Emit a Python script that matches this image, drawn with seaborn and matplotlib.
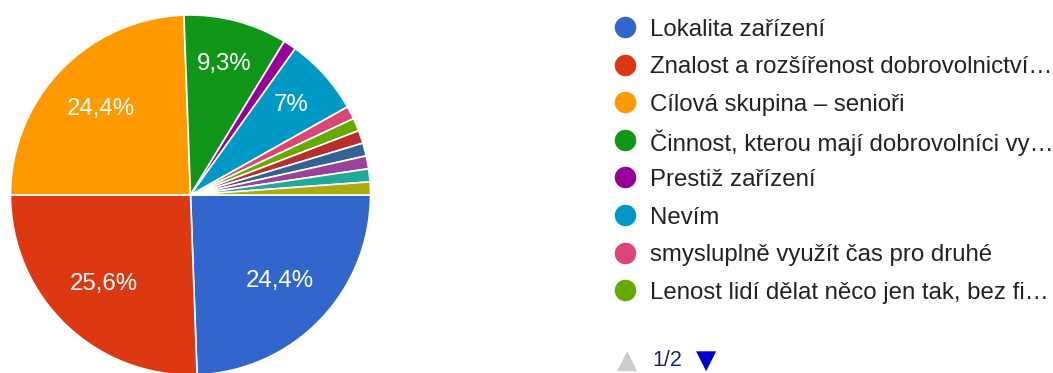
import numpy as np
import matplotlib.pyplot as plt
import seaborn as sns
from matplotlib.lines import Line2D

# answers (86 responses), pie order as in the form summary
categories = [
    "Lokalita zařízení",
    "Znalost a rozšířenost dobrovolnictví…",
    "Cílová skupina – senioři",
    "Činnost, kterou mají dobrovolníci vy…",
    "Prestiž zařízení",
    "Nevím",
    "smysluplně využít čas pro druhé",
    "Lenost lidí dělat něco jen tak, bez fi…",
    "odpověď 9", "odpověď 10", "odpověď 11", "odpověď 12", "odpověď 13",  # page 2 of legend, not visible
]
counts = [21, 22, 21, 8, 1, 6, 1, 1, 1, 1, 1, 1, 1]
colors = ["#3366CC", "#DC3912", "#FF9900", "#109618", "#990099", "#0099C6",
          "#DD4477", "#66AA00", "#B82E2E", "#316395", "#994499", "#22AA99", "#AAAA11"]
legend_page = 8  # entries shown on page 1/2

sns.set_theme(style="white")
plt.rcParams['font.family'] = ['Liberation Sans', 'DejaVu Sans']

palette = sns.color_palette(colors)


def pct_label(p):
    if p < 5:
        return ""
    s = f"{p:.1f}".replace(".", ",")
    s = s[:-2] if s.endswith(",0") else s
    return s + "%"


fig = plt.figure(figsize=(10.53, 3.73), dpi=100)
W, H = 1053, 373
ax = fig.add_axes([10.5 / W, (H - 195 - 180) / H, 360 / W, 360 / H])

wedges, texts, autotexts = ax.pie(
    counts, colors=palette, startangle=0, counterclock=False, radius=1,
    autopct=pct_label, pctdistance=0.69,
    wedgeprops=dict(edgecolor="white", linewidth=1.2),
    textprops=dict(color="white", fontsize=17.3),
)
# smaller slices get their label a bit further out (like Google Forms)
total = sum(counts)
for w, t, c in zip(wedges, autotexts, counts):
    if 100 * c / total < 15:
        mid = np.deg2rad((w.theta1 + w.theta2) / 2)
        t.set_position((0.75 * np.cos(mid), 0.75 * np.sin(mid)))
    t.set_ha("center")
    t.set_va("center")
ax.set_xlim(-1, 1)
ax.set_ylim(-1, 1)

# legend, page 1 -- fixed row pitch like the Forms legend
row0, pitch = 27, 37.6
for i in range(legend_page):
    y = 1 - (row0 + i * pitch) / H
    fig.add_artist(Line2D([625 / W], [y], transform=fig.transFigure, marker="o",
                          markersize=15.5, markerfacecolor=palette[i],
                          markeredgewidth=0, linestyle="none"))
    fig.text(650 / W, y, categories[i], color="#222222", fontsize=17.3,
             ha="left", va="center_baseline")

# legend pager
ypg = 1 - 361 / H
fig.text(627 / W, ypg, "▲", color="#CCCCCC", fontsize=19,
         ha="center", va="center", family=["DejaVu Sans"])
fig.text(652 / W, ypg, "1/2", color="#1A237E", fontsize=15.5,
         ha="left", va="center")
fig.text(706 / W, ypg, "▼", color="#0000CC", fontsize=19,
         ha="center", va="center", family=["DejaVu Sans"])

fig.savefig("out.png", dpi=100)
